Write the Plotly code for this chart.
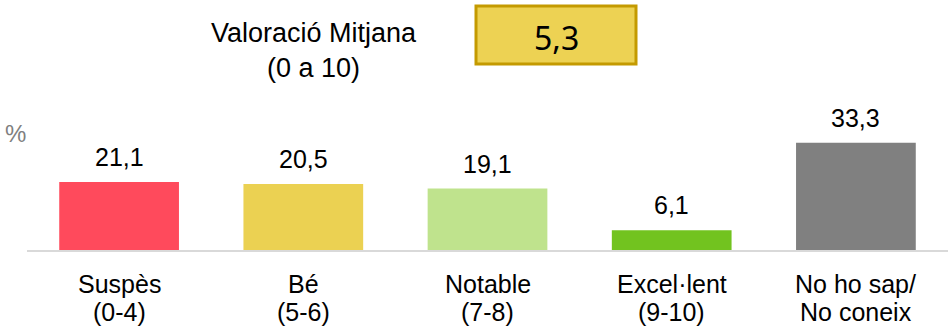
import plotly.graph_objects as go

# Rating distribution (%)
cat_names = ["Suspès", "Bé", "Notable", "Excel·lent", "No ho sap/"]
cat_ranges = ["(0-4)", "(5-6)", "(7-8)", "(9-10)", "No coneix"]
values = [21.1, 20.5, 19.1, 6.1, 33.3]
colors = ["#FF4A5C", "#EBD152", "#BFE38D", "#72C31F", "#808080"]
mean_rating = 5.3

FONT = "Liberation Sans, Arial, sans-serif"

# plot area in pixels: x 27..948, y 100..250
PX_L, PX_W, PX_B, PX_H = 27, 921, 250, 150


def px(x):
    return (x - PX_L) / PX_W


def py(y):
    return (PX_B - y) / PX_H


def fmt(v):
    return f"{v:.1f}".replace(".", ",")


fig = go.Figure(
    go.Bar(
        x=cat_names,
        y=values,
        marker=dict(color=colors, line=dict(width=0)),
        cliponaxis=False,
    )
)

fig.update_layout(
    width=948,
    height=330,
    margin=dict(l=27, r=0, t=100, b=80),
    paper_bgcolor="white",
    plot_bgcolor="white",
    bargap=0.35,
    showlegend=False,
    font=dict(family=FONT, size=24, color="#000000"),
    xaxis=dict(
        showgrid=False,
        showline=True,
        linecolor="#D9D9D9",
        linewidth=1.5,
        ticks="",
        showticklabels=False,
    ),
    yaxis=dict(range=[0, 46.6], visible=False),
)

# value labels above bars
for name, v in zip(cat_names, values):
    fig.add_annotation(
        x=name, y=v, xref="x", yref="y", text=fmt(v), showarrow=False,
        xanchor="center", yanchor="bottom", yshift=9,
        font=dict(family=FONT, size=25, color="#000000"),
    )

# two-line category labels below the axis
for name, rng in zip(cat_names, cat_ranges):
    fig.add_annotation(
        x=name, y=py(284), xref="x", yref="paper", text=name, showarrow=False,
        xanchor="center", yanchor="middle",
        font=dict(family=FONT, size=25, color="#000000"),
    )
    fig.add_annotation(
        x=name, y=py(312), xref="x", yref="paper", text=rng, showarrow=False,
        xanchor="center", yanchor="middle",
        font=dict(family=FONT, size=25, color="#000000"),
    )

# unit marker
fig.add_annotation(
    x=px(3), y=py(133), xref="paper", yref="paper", text="%",
    showarrow=False, xanchor="left", yanchor="middle",
    font=dict(family=FONT, size=24, color="#7F7F7F"),
)

# mean rating heading
fig.add_annotation(
    x=px(314), y=py(50), xref="paper", yref="paper",
    text="Valoració Mitjana<br>(0 a 10)", showarrow=False,
    xanchor="center", yanchor="middle", align="center",
    font=dict(family=FONT, size=27, color="#000000"),
)

# mean rating value box
fig.add_shape(
    type="rect", xref="paper", yref="paper",
    x0=px(476), x1=px(636), y0=py(64), y1=py(6),
    fillcolor="#EDD253", line=dict(color="#C49A00", width=3),
)
fig.add_annotation(
    x=px(556), y=py(37), xref="paper", yref="paper",
    text=fmt(mean_rating), showarrow=False,
    xanchor="center", yanchor="middle",
    font=dict(family="Noto Sans, DejaVu Sans, sans-serif", size=32, color="#000000"),
)

fig.write_html("out.html")
